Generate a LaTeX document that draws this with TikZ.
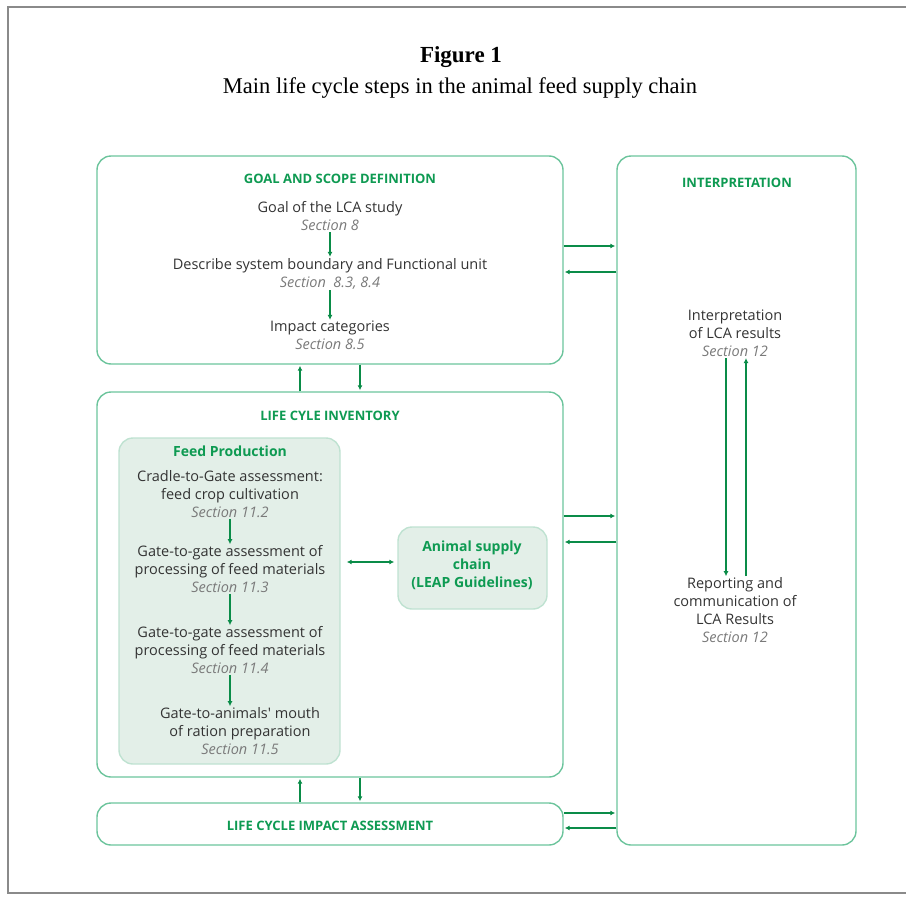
\documentclass[tikz,border=0pt]{standalone}
\usepackage{fontspec}
\setmainfont{Liberation Serif}
\newfontfamily\sansf{Open Sans}
\usetikzlibrary{arrows.meta,calc}
\definecolor{boxline}{HTML}{6CC49C}
\definecolor{arrgreen}{HTML}{0A8C48}
\definecolor{headgreen}{HTML}{0E9A52}
\definecolor{secgrey}{HTML}{7A7A7A}
\definecolor{txt}{HTML}{333333}
\definecolor{fillgreen}{HTML}{E3EFE8}
\definecolor{framegrey}{HTML}{8A8A8A}
\tikzset{
  box/.style={draw=boxline, line width=1.4pt, rounded corners=14pt, inner sep=0pt},
  fbox/.style={box, fill=fillgreen, draw=fillgreen!70!boxline},
  head/.style={font=\sansf\bfseries\fontsize{13}{14}\selectfont, text=headgreen, inner sep=0pt},
  ghead/.style={font=\sansf\bfseries\fontsize{14}{18}\selectfont, text=headgreen, align=center, inner sep=1pt},
  body/.style={font=\sansf\fontsize{14.5}{18}\selectfont, text=txt, align=center, inner sep=1pt},
  arr/.style={draw=arrgreen, line width=1.8pt, -{Latex[length=5pt,width=5pt]}},
  darr/.style={draw=arrgreen, line width=1.8pt, {Latex[length=5pt,width=5pt]}-{Latex[length=5pt,width=5pt]}}
}
\newcommand{\sect}[1]{{\color{secgrey}\itshape #1}}
\begin{document}
\begin{tikzpicture}[x=1pt,y=-1pt]
\useasboundingbox (0,0) rectangle (906,897);
% outer frame
\draw[framegrey, line width=1.6pt] (906,7) -- (8,7) -- (8,893) -- (906,893);
% title
\node[font=\fontsize{23}{26}\selectfont\bfseries, inner sep=0pt] (fig) at (461,57) {Figure 1};
\node[font=\fontsize{22.5}{26}\selectfont, inner sep=0pt] (sub) at (460,88) {Main life cycle steps in the animal feed supply chain};
% boxes
\node[box, minimum width=466pt, minimum height=208pt] (goal) at (330,260) {};
\node[box, minimum width=466pt, minimum height=385pt] (lci) at (330,584.5) {};
\node[box, minimum width=466pt, minimum height=42pt] (lcia) at (330,824) {};
\node[box, minimum width=239pt, minimum height=689pt] (interp) at (736.5,500.5) {};
\node[fbox, minimum width=221pt, minimum height=326pt] (feed) at (229.5,601) {};
\node[fbox, minimum width=149pt, minimum height=82pt] (animal) at (472.5,568) {};
% headings
\node[head] (hgoal) at (340,179) {GOAL AND SCOPE DEFINITION};
\node[head] (hlci) at (330,416) {LIFE CYLE INVENTORY};
\node[head] (hlcia) at (330,826) {LIFE CYCLE IMPACT ASSESSMENT};
\node[head] (hint) at (737,183) {INTERPRETATION};
\node[ghead] (hfeed) at (230,451) {Feed Production};
\node[ghead] (anim) at (472,565) {Animal supply\\chain\\(LEAP Guidelines)};
% goal texts
\node[body] (g1) at (330,216.5) {Goal of the LCA study\\\sect{Section 8}};
\node[body] (g2) at (330,273.5) {Describe system boundary and Functional unit\\\sect{Section\ \ 8.3, 8.4}};
\node[body] (g3) at (330,335.5) {Impact categories\\\sect{Section 8.5}};
\draw[arr] (g1.south) -- (g2.north);
\draw[arr] (g2.south) -- (g3.north);
% feed texts
\node[body] (f1) at (230,494) {Cradle-to-Gate assessment:\\feed crop cultivation\\\sect{Section 11.2}};
\node[body] (f2) at (230,569) {Gate-to-gate assessment of\\processing of feed materials\\\sect{Section 11.3}};
\node[body] (f3) at (230,650) {Gate-to-gate assessment of\\processing of feed materials\\\sect{Section 11.4}};
\node[body] (f4) at (240,731) {Gate-to-animals' mouth\\of ration preparation\\\sect{Section 11.5}};
\draw[arr] (f1.south) -- (f1.south |- f2.north);
\draw[arr] (f2.south) -- (f2.south |- f3.north);
\draw[arr] (f3.south) -- (f3.south |- f4.north);
\draw[darr] ([xshift=6pt]feed.east |- 0,562) -- ([xshift=-3pt]animal.west |- 0,562);
% interpretation texts
\node[body] (i1) at (735,333.5) {Interpretation\\of LCA results\\\sect{Section 12}};
\node[body] (i2) at (735,610) {Reporting and\\communication of\\LCA Results\\\sect{Section 12}};
\draw[arr] ([xshift=-9pt]i1.south) -- ([xshift=-9pt]i2.north);
\draw[arr] ([xshift=11pt]i2.north) -- ([xshift=11pt]i1.south);
% vertical arrows between left boxes
\draw[arr] (lci.north -| 300,0) -- ([yshift=-1pt]goal.south -| 300,0);
\draw[arr] (goal.south -| 360,0) -- ([yshift=1pt]lci.north -| 360,0);
\draw[arr] (lcia.north -| 300,0) -- ([yshift=-1pt]lci.south -| 300,0);
\draw[arr] (lci.south -| 360,0) -- ([yshift=1pt]lcia.north -| 360,0);
% horizontal arrows to interpretation
\draw[arr] (goal.east |- 0,246) -- ([xshift=-1pt]interp.west |- 0,246);
\draw[arr] (interp.west |- 0,272) -- ([xshift=1pt]goal.east |- 0,272);
\draw[arr] (lci.east |- 0,516) -- ([xshift=-1pt]interp.west |- 0,516);
\draw[arr] (interp.west |- 0,542) -- ([xshift=1pt]lci.east |- 0,542);
\draw[arr] (lcia.east |- 0,813) -- ([xshift=-1pt]interp.west |- 0,813);
\draw[arr] (interp.west |- 0,828) -- ([xshift=1pt]lcia.east |- 0,828);
\end{tikzpicture}
\end{document}
